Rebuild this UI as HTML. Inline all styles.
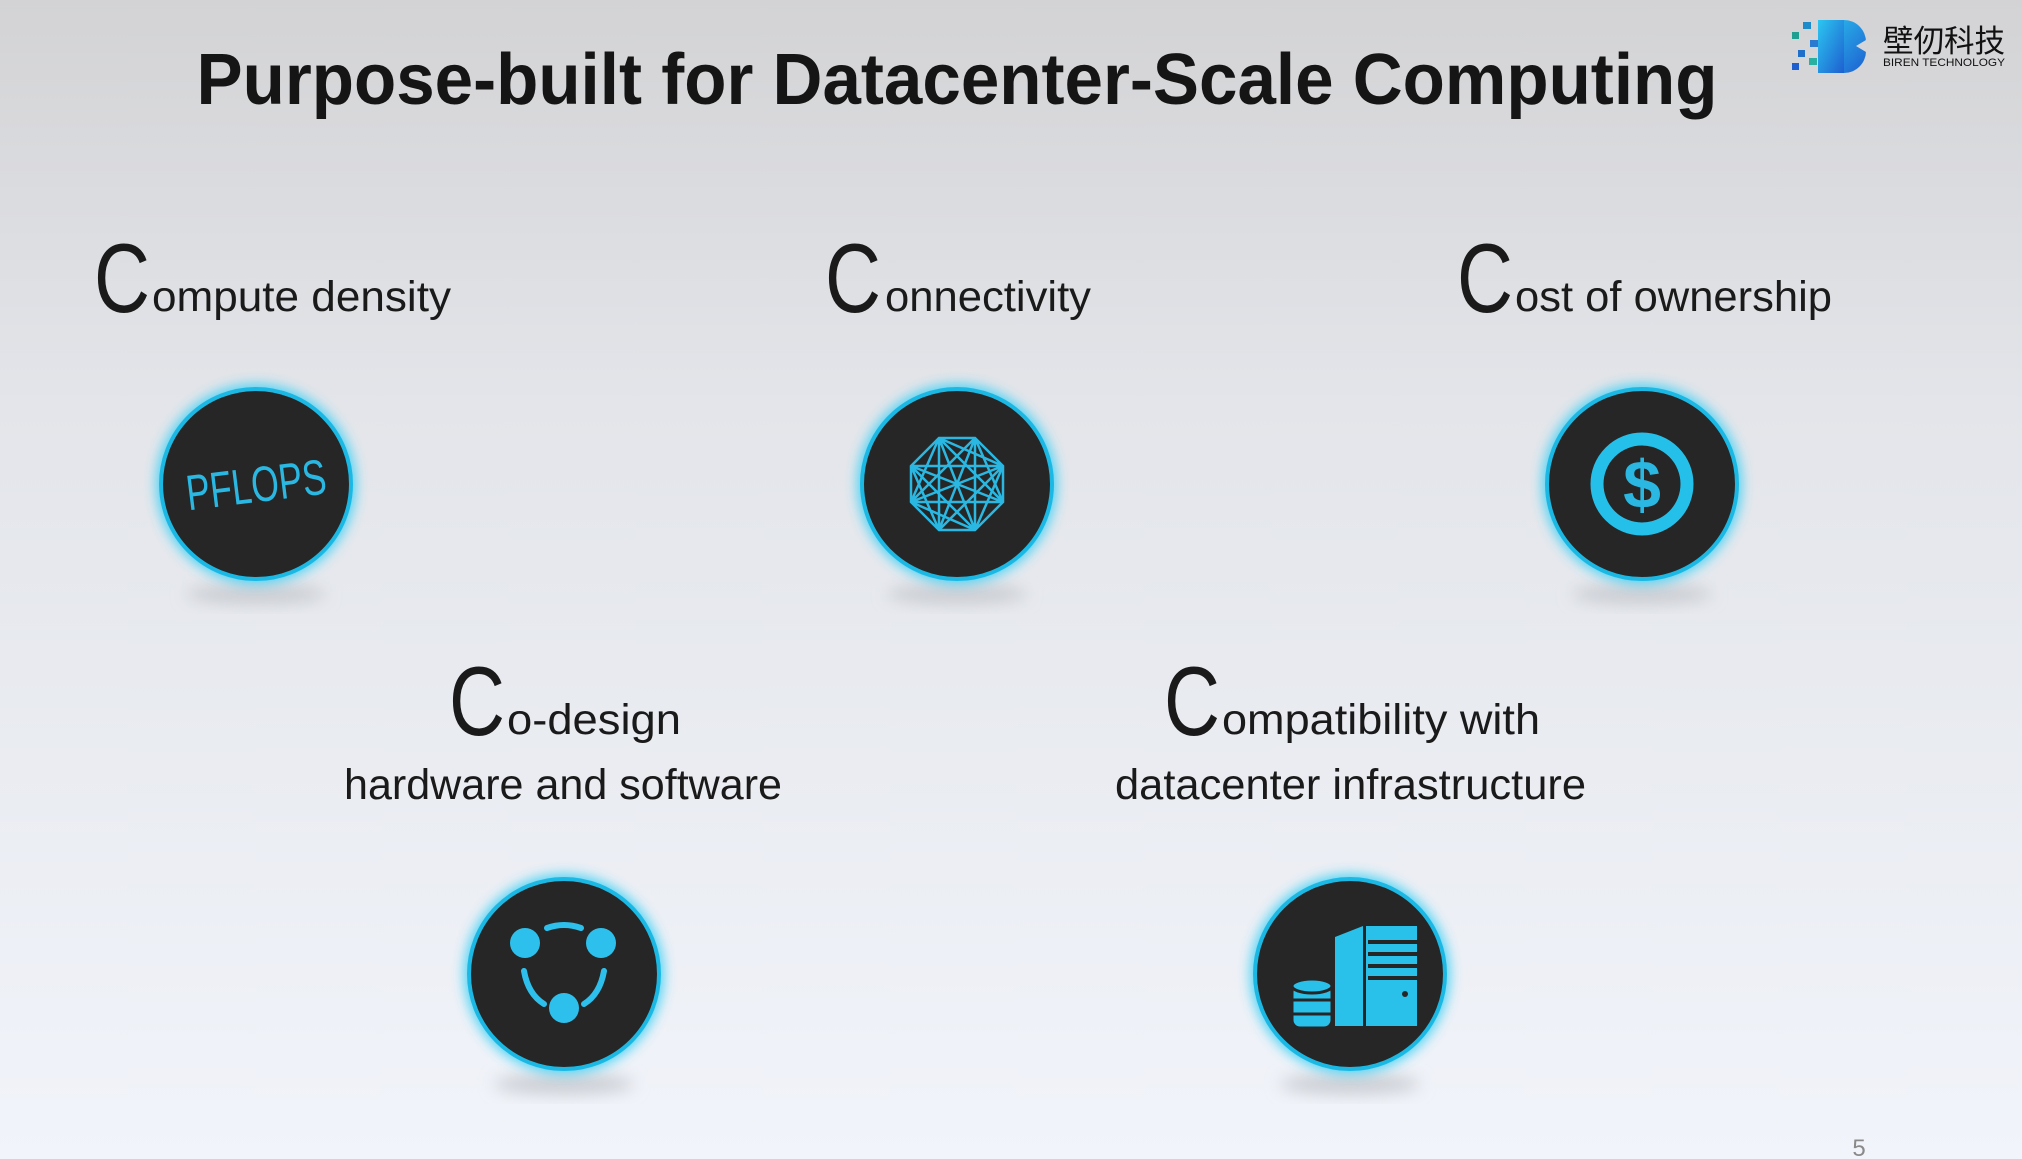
<!DOCTYPE html>
<html><head><meta charset="utf-8"><style>
html,body{margin:0;padding:0;}
body{width:2022px;height:1159px;overflow:hidden;}
svg{display:block;}
text{font-family:"Liberation Sans","Noto Sans CJK SC",sans-serif;}
</style></head><body>
<svg width="2022" height="1159" viewBox="0 0 2022 1159" xmlns="http://www.w3.org/2000/svg">
<defs>
<linearGradient id="bg" x1="0" y1="0" x2="0" y2="1">
<stop offset="0" stop-color="#d3d3d5"/><stop offset="0.35" stop-color="#e3e5ea"/><stop offset="1" stop-color="#f1f4fa"/>
</linearGradient>
<filter id="glow" x="-30%" y="-30%" width="160%" height="160%"><feGaussianBlur stdDeviation="6"/></filter>
<filter id="sh" x="-50%" y="-50%" width="200%" height="200%"><feGaussianBlur stdDeviation="8"/></filter>
<linearGradient id="lb" x1="0" y1="0" x2="1" y2="1"><stop offset="0" stop-color="#2bc6f0"/><stop offset="1" stop-color="#1e5fd0"/></linearGradient>
<g id="disc">
<ellipse cx="0" cy="110" rx="70" ry="10" fill="#c9ccd2" filter="url(#sh)"/>
<circle r="100" fill="#3fd0f5" filter="url(#glow)" opacity="0.9"/>
<circle r="95" fill="#262626" stroke="#1cb8e4" stroke-width="4"/>
</g>
</defs>
<rect width="2022" height="1159" fill="url(#bg)"/>

<!-- logo -->
<g>
<rect x="1818" y="20" width="48" height="53" rx="22" fill="url(#lb)"/>
<rect x="1818" y="20" width="26" height="53" fill="url(#lb)"/>
<polygon points="1866,40 1856,46 1866,52" fill="#d6d6d8"/>
<rect x="1803" y="22" width="8" height="7" fill="#1d8bc9"/>
<rect x="1792" y="32" width="7" height="7" fill="#1e9f8f"/>
<rect x="1810" y="40" width="8" height="7" fill="#2a7ad0"/>
<rect x="1798" y="50" width="7" height="7" fill="#1d6fc9"/>
<rect x="1809" y="58" width="8" height="7" fill="#29b0a0"/>
<rect x="1792" y="63" width="7" height="7" fill="#1e5fd0"/>
<text x="1883" y="52" font-size="31" fill="#111" textLength="122" lengthAdjust="spacingAndGlyphs">壁仞科技</text>
<text x="1883" y="66" font-size="11" fill="#111" textLength="122" lengthAdjust="spacingAndGlyphs">BIREN TECHNOLOGY</text>
</g>

<text x="957" y="104" text-anchor="middle" font-size="72" font-weight="bold" fill="#151515" textLength="1521" lengthAdjust="spacingAndGlyphs">Purpose-built for Datacenter-Scale Computing</text>

<g fill="#1a1a1a" font-size="98">
<text x="94" y="312" textLength="56" lengthAdjust="spacingAndGlyphs">C</text>
<text x="825" y="312" textLength="56" lengthAdjust="spacingAndGlyphs">C</text>
<text x="1457" y="312" textLength="56" lengthAdjust="spacingAndGlyphs">C</text>
<text x="449" y="735" textLength="56" lengthAdjust="spacingAndGlyphs">C</text>
<text x="1164" y="735" textLength="56" lengthAdjust="spacingAndGlyphs">C</text>
</g>
<g fill="#1a1a1a" font-size="43">
<text x="152" y="311" textLength="299" lengthAdjust="spacingAndGlyphs">ompute density</text>
<text x="885" y="311" textLength="206" lengthAdjust="spacingAndGlyphs">onnectivity</text>
<text x="1515" y="311" textLength="317" lengthAdjust="spacingAndGlyphs">ost of ownership</text>
<text x="507" y="734" textLength="174" lengthAdjust="spacingAndGlyphs">o-design</text>
<text x="344" y="799" textLength="438" lengthAdjust="spacingAndGlyphs">hardware and software</text>
<text x="1222" y="734" textLength="318" lengthAdjust="spacingAndGlyphs">ompatibility with</text>
<text x="1115" y="799" textLength="471" lengthAdjust="spacingAndGlyphs">datacenter infrastructure</text>
</g>

<!-- PFLOPS -->
<g transform="translate(256,484)">
<use href="#disc"/>
<text x="0" y="18" text-anchor="middle" font-size="50" fill="#2ab8e2" transform="rotate(-7) scale(0.78,1)" textLength="180" lengthAdjust="spacingAndGlyphs">PFLOPS</text>
</g>

<!-- connectivity -->
<g transform="translate(957,484)">
<use href="#disc"/>
<g stroke="#2ab8e2" stroke-width="2.5" fill="none">
<polygon points="-18,-46 18,-46 46,-18 46,18 18,46 -18,46 -46,18 -46,-18"/>
<path d="M-18,-46 L18,46 M18,-46 L-18,46 M-46,-18 L46,18 M46,-18 L-46,18 M-18,-46 L46,18 M18,-46 L-46,18 M-18,46 L46,-18 M18,46 L-46,-18 M-18,-46 L-46,18 M18,-46 L46,18 M-18,46 L-46,-18 M18,46 L46,-18 M-46,-18 L46,-18 M-46,18 L46,18 M-18,-46 L-18,46 M18,-46 L18,46 M-18,-46 L46,-18 M18,46 L-46,18"/>
</g>
</g>

<!-- cost -->
<g transform="translate(1642,484)">
<use href="#disc"/>
<circle r="45" fill="none" stroke="#25c0ea" stroke-width="13"/>
<text x="0" y="24" text-anchor="middle" font-size="68" font-weight="bold" fill="#2ab8e2">$</text>
</g>

<!-- codesign -->
<g transform="translate(564,974)">
<use href="#disc"/>
<g fill="#2ec0ec"><circle cx="-39" cy="-31" r="15"/><circle cx="37" cy="-31" r="15"/><circle cx="0" cy="34" r="15"/></g>
<g stroke="#2ec0ec" stroke-width="6" fill="none" stroke-linecap="round">
<path d="M-17,-46 Q0,-52 17,-46"/>
<path d="M-40,-3 Q-36,20 -20,30"/>
<path d="M40,-3 Q36,20 20,30"/>
</g>
</g>

<!-- compat -->
<g transform="translate(1350,974)">
<use href="#disc"/>
<polygon points="-15,-37 13,-48 13,52 -15,52" fill="#29c0ea"/>
<rect x="16" y="-48" width="51" height="100" fill="#29c0ea"/>
<g stroke="#262626" stroke-width="4"><line x1="18" y1="-32" x2="67" y2="-32"/><line x1="18" y1="-20" x2="67" y2="-20"/><line x1="18" y1="-8" x2="67" y2="-8"/><line x1="18" y1="4" x2="67" y2="4"/></g>
<circle cx="55" cy="20" r="3" fill="#262626"/>
<g fill="#29c0ea" stroke="#262626" stroke-width="3">
<rect x="-58" y="10" width="40" height="44" rx="8"/>
<ellipse cx="-38" cy="12" rx="20" ry="7"/>
</g>
<g stroke="#262626" stroke-width="3"><line x1="-58" y1="26" x2="-18" y2="26"/><line x1="-58" y1="40" x2="-18" y2="40"/></g>
</g>

<text x="1859" y="1156" text-anchor="middle" font-size="24" fill="#8a8a8a">5</text>
</svg>
</body></html>
